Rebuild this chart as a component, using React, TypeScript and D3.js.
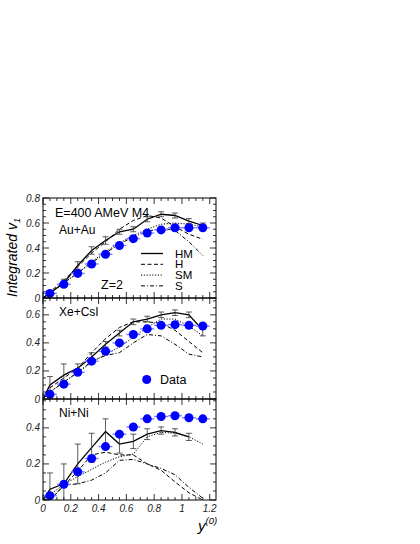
import * as d3 from 'd3';

// bins of the measured points (bin centre) and grid of the model curves
const dataX = [0.05, 0.15, 0.25, 0.35, 0.45, 0.55, 0.65, 0.75, 0.85, 0.95, 1.05, 1.15];
const modelX = [0, 0.05, 0.15, 0.25, 0.35, 0.45, 0.55, 0.65, 0.75, 0.85, 0.95, 1.05, 1.15];
const xTicks = [0, 0.2, 0.4, 0.6, 0.8, 1, 1.2];

// Au+Au
const auData = [0.037, 0.11, 0.197, 0.272, 0.35, 0.42, 0.475, 0.52, 0.545, 0.562, 0.562, 0.562];
const auHM = [0, 0.04, 0.12, 0.26, 0.38, 0.46, 0.53, 0.55, 0.63, 0.67, 0.66, 0.615, 0.58];
const auHMErr = [0, 0.02, 0.03, 0.03, 0.03, 0.03, 0.02, 0.02, 0.02, 0.02, 0.02, 0.02, 0.02];
const auH = [0, 0.05, 0.14, 0.25, 0.36, 0.45, 0.55, 0.62, 0.66, 0.64, 0.57, 0.51, 0.47];
const auSM = [0, 0.04, 0.12, 0.2, 0.29, 0.37, 0.44, 0.5, 0.55, 0.59, 0.6, 0.59, 0.57];
const auS = [0, 0.04, 0.12, 0.2, 0.28, 0.36, 0.43, 0.49, 0.53, 0.56, 0.54, 0.45, 0.34];

// Xe+CsI
const xeData = [0.033, 0.106, 0.19, 0.27, 0.34, 0.4, 0.46, 0.5, 0.525, 0.53, 0.525, 0.52];
const xeHM = [0, 0.1, 0.17, 0.22, 0.3, 0.39, 0.47, 0.55, 0.57, 0.6, 0.615, 0.6, 0.49];
const xeHMErr = [0, 0.06, 0.08, 0.03, 0.03, 0.02, 0.02, 0.02, 0.02, 0.02, 0.02, 0.02, 0.04];
const xeH = [0, 0.08, 0.15, 0.22, 0.33, 0.43, 0.51, 0.55, 0.55, 0.54, 0.49, 0.41, 0.33];
const xeSM = [0, 0.05, 0.12, 0.19, 0.26, 0.32, 0.37, 0.44, 0.51, 0.57, 0.57, 0.52, 0.45];
const xeS = [0, 0.05, 0.12, 0.19, 0.27, 0.31, 0.33, 0.4, 0.46, 0.45, 0.39, 0.32, 0.3];

// Ni+Ni
const niData = [0.024, 0.087, 0.156, 0.23, 0.296, 0.365, 0.405, 0.45, 0.463, 0.467, 0.456, 0.45];
const niHM = [0, 0.06, 0.09, 0.2, 0.29, 0.38, 0.31, 0.325, 0.365, 0.385, 0.375, 0.35];
const niHMErr = [0, 0.09, 0.11, 0.11, 0.08, 0.07, 0.05, 0.04, 0.03, 0.02, 0.02, 0.02, 0.03];
const niH = [0, 0, 0.08, 0.16, 0.25, 0.265, 0.25, 0.25, 0.2, 0.165, 0.1, 0.04, 0];
const niSM = [0, 0.03, 0.085, 0.13, 0.17, 0.21, 0.24, 0.255, 0.35, 0.375, 0.37, 0.35, 0.31];
const niS = [0, 0, 0.08, 0.09, 0.11, 0.15, 0.22, 0.225, 0.2, 0.175, 0.14, 0.07, 0.01];

const legendNames = ['HM', 'H', 'SM', 'S'];

const FONT = '"Liberation Sans", Arial, sans-serif';
const dashes: Record<string, string | undefined> = {
  HM: undefined,
  H: '4,2.5',
  SM: '1.2,1.6',
  S: '4,2,1,2',
};

const left = 43;
const right = 216;

const panels = [
  { name: 'Au+Au', top: 198, bottom: 298, ymax: 0.8, yTicks: [0, 0.2, 0.4, 0.6, 0.8],
    data: auData, HM: auHM, err: auHMErr, H: auH, SM: auSM, S: auS },
  { name: 'Xe+CsI', top: 298, bottom: 399, ymax: 0.72, yTicks: [0, 0.2, 0.4, 0.6],
    data: xeData, HM: xeHM, err: xeHMErr, H: xeH, SM: xeSM, S: xeS },
  { name: 'Ni+Ni', top: 399, bottom: 500, ymax: 0.56, yTicks: [0, 0.2, 0.4],
    data: niData, HM: niHM, err: niHMErr, H: niH, SM: niSM, S: niS },
];

const x = d3.scaleLinear().domain([0, 1.245]).range([left, right]);

function Panel({ p, last }: { p: (typeof panels)[number]; last: boolean }) {
  const y = d3.scaleLinear().domain([0, p.ymax]).range([p.bottom, p.top]);
  const line = d3.line<number>().x((_, i) => x(modelX[i])).y(d => y(Math.max(0, d)));
  const xMinor = d3.range(0, 1.2001, 0.05);
  const yMinor = d3.range(0, p.ymax + 0.0001, 0.05);
  const isMajor = (v: number) => Math.abs(v / 0.2 - Math.round(v / 0.2)) < 1e-6;

  return (
    <g>
      <defs>
        <clipPath id={`clip-${p.name}`}>
          <rect x={left} y={p.top} width={right - left} height={p.bottom - p.top} />
        </clipPath>
      </defs>
      <g clipPath={`url(#clip-${p.name})`}>
        {/* model curves */}
        {legendNames.map(n => (
          <path key={n} d={line((p as any)[n]) ?? ''} fill="none" stroke="#000"
            strokeWidth={n === 'HM' ? 1.3 : 1} strokeDasharray={dashes[n]} />
        ))}
        {/* model uncertainties */}
        {p.err.map((e, i) => e > 0 && i < p.HM.length ? (
          <g key={i} stroke="#333" strokeWidth={0.8}>
            <line x1={x(modelX[i])} x2={x(modelX[i])} y1={y(p.HM[i] - e)} y2={y(p.HM[i] + e)} />
            <line x1={x(modelX[i]) - 3} x2={x(modelX[i]) + 3} y1={y(p.HM[i] + e)} y2={y(p.HM[i] + e)} />
            <line x1={x(modelX[i]) - 3} x2={x(modelX[i]) + 3} y1={y(p.HM[i] - e)} y2={y(p.HM[i] - e)} />
          </g>
        ) : null)}
        {/* data */}
        {p.data.map((v, i) => (
          <g key={i}>
            <line x1={x(dataX[i] - 0.05)} x2={x(dataX[i] + 0.05)} y1={y(v)} y2={y(v)}
              stroke="#7f7fff" strokeWidth={1.4} />
            <circle cx={x(dataX[i])} cy={y(v)} r={4.5} fill="#0000ff" />
          </g>
        ))}
      </g>
      {/* ticks */}
      <g stroke="#000" strokeWidth={0.8}>
        {xMinor.map((v, i) => {
          const len = isMajor(v) ? 6 : 3;
          return (
            <g key={i}>
              <line x1={x(v)} x2={x(v)} y1={p.bottom} y2={p.bottom - len} />
              <line x1={x(v)} x2={x(v)} y1={p.top} y2={p.top + len} />
            </g>
          );
        })}
        {yMinor.map((v, i) => {
          const len = isMajor(v) ? 6 : 3;
          return (
            <g key={i}>
              <line x1={left} x2={left + len} y1={y(v)} y2={y(v)} />
              <line x1={right} x2={right - len} y1={y(v)} y2={y(v)} />
            </g>
          );
        })}
      </g>
      <rect x={left} y={p.top} width={right - left} height={p.bottom - p.top}
        fill="none" stroke="#000" strokeWidth={1} />
      {p.yTicks.map(v => (
        <text key={v} x={left - 3} y={y(v)} dy="0.35em" textAnchor="end" fontSize={10}
          fontStyle="italic" fontFamily={FONT} fill="#222">{d3.format('~g')(v)}</text>
      ))}
      {last && xTicks.map(v => (
        <text key={v} x={x(v)} y={p.bottom + 12} textAnchor="middle" fontSize={10}
          fontStyle="italic" fontFamily={FONT} fill="#222">{d3.format('~g')(v)}</text>
      ))}
      <text x={59} y={p.name === 'Au+Au' ? 234 : p.top + 18} fontSize={12} fontFamily={FONT}>{p.name}</text>
    </g>
  );
}

export default function App() {
  return (
    <svg width={420} height={544} style={{ position: 'absolute', left: 0, top: 0 }}>
      <rect width={420} height={544} fill="#fff" />
      {panels.map((p, i) => <Panel key={p.name} p={p} last={i === panels.length - 1} />)}
      <text x={55} y={217} fontSize={12.5} fontFamily={FONT}>E=400 AMeV M4</text>
      <text x={101} y={289} fontSize={12.5} fontFamily={FONT}>Z=2</text>
      {legendNames.map((n, i) => (
        <g key={n}>
          <line x1={141} x2={163} y1={253.5 + i * 10.8} y2={253.5 + i * 10.8} stroke="#000"
            strokeWidth={n === 'HM' ? 1.3 : 1} strokeDasharray={dashes[n]} />
          <text x={175} y={253.5 + i * 10.8} dy="0.36em" fontSize={11.5} fontFamily={FONT}>{n}</text>
        </g>
      ))}
      <circle cx={146.7} cy={379.5} r={4.5} fill="#0000ff" />
      <text x={160} y={379.5} dy="0.36em" fontSize={12.5} fontFamily={FONT}>Data</text>
      <text transform="translate(17,297) rotate(-90)" fontSize={14} fontStyle="italic" fontFamily={FONT}>
        Integrated v<tspan fontSize={9} dy={3}>1</tspan>
      </text>
      <text x={198} y={531} fontSize={15} fontStyle="italic" fontFamily={FONT}>
        y<tspan fontSize={9.5} dy={-7}>(0)</tspan>
      </text>
    </svg>
  );
}
